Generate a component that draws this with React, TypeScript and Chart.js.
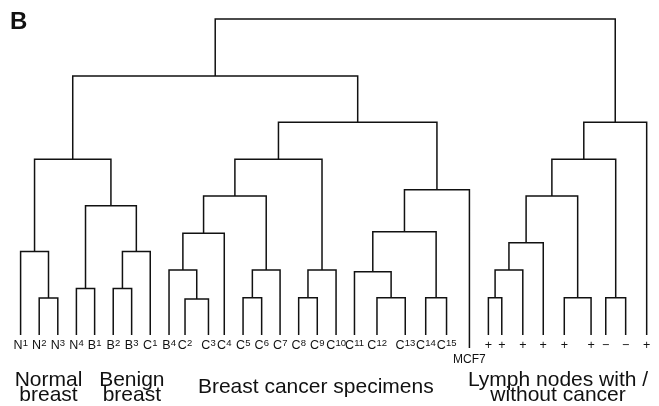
import React, { useEffect, useRef } from 'react';
import { Chart, registerables } from 'chart.js';

Chart.register(...registerables);

// ---- Data ----
const panelLabel = 'B';

const leafLabels = [
  'N1', 'N2', 'N3', 'N4', 'B1', 'B2', 'B3', 'C1', 'B4', 'C2', 'C3', 'C4',
  'C5', 'C6', 'C7', 'C8', 'C9', 'C10', 'C11', 'C12', 'C13', 'C14', 'C15',
  'MCF7', '+', '+', '+', '+', '+', '+', '\u2212', '\u2212', '+',
];

// leaf positions along the x axis (slot units)
const leafPositions = [
  1.0, 2.0, 3.0, 4.0, 4.98, 5.98, 6.97, 7.97, 8.98, 9.84, 11.1, 11.95,
  12.96, 13.96, 14.95, 15.95, 16.95, 17.96, 18.95, 20.16, 21.68, 22.78, 23.9,
  25.13, 26.15, 26.87, 28.0, 29.1, 30.23, 31.67, 32.46, 33.53, 34.66,
];

// linkage: node 33 + k merges mergeLeft[k] and mergeRight[k] at mergeHeight[k]
const mergeLeft = [
  9, 1, 12, 15, 19, 21, 24, 28, 30, 3, 5, 18, 8, 35, 36, 39,
  0, 43, 48, 45, 44, 42, 52, 51, 53, 49, 55, 56, 59, 60, 58, 63,
];
const mergeRight = [
  10, 2, 13, 16, 20, 22, 25, 29, 31, 4, 6, 37, 33, 14, 17, 26,
  34, 7, 27, 11, 38, 50, 46, 40, 23, 54, 47, 41, 57, 32, 61, 62,
];
const mergeHeight = [
  11.4, 11.7, 11.8, 11.8, 11.8, 11.8, 11.8, 11.8, 11.8, 14.7, 14.7, 20.0, 20.6, 20.6, 20.6, 20.6,
  26.4, 26.4, 29.2, 32.2, 32.7, 40.9, 44.0, 44.0, 46.0, 55.6, 55.6, 55.6, 67.3, 67.3, 82.0, 100,
];

const groupLines = [
  ['Normal', 'breast'],
  ['Benign', 'breast'],
  ['Breast cancer specimens'],
  ['Lymph nodes with /', 'without cancer'],
];
const groupFirstLeaf = [0, 4, 9, 23];
const groupLastLeaf = [3, 8, 22, 32];

const staggeredLeaves = ['MCF7'];

// ---- Styling ----
const FONT = '"Liberation Sans", Arial, Helvetica, sans-serif';
const INK = '#111';
const STAGGER_DROP = 4.1; // extra length (y units) of staggered leaf lines

function buildTree() {
  const n = leafLabels.length;
  const xs: number[] = leafPositions.slice();
  const hs: number[] = leafLabels.map((l) => (staggeredLeaves.includes(l) ? -STAGGER_DROP : 0));
  const links: { x: number; y: number }[][] = [];
  for (let k = 0; k < mergeLeft.length; k++) {
    const l = mergeLeft[k];
    const r = mergeRight[k];
    const h = mergeHeight[k];
    links.push([
      { x: xs[l], y: hs[l] },
      { x: xs[l], y: h },
      { x: xs[r], y: h },
      { x: xs[r], y: hs[r] },
    ]);
    xs[n + k] = (xs[l] + xs[r]) / 2;
    hs[n + k] = h;
  }
  return links;
}

const labelPlugin = {
  id: 'dendroLabels',
  afterDraw(chart: any) {
    const ctx: CanvasRenderingContext2D = chart.ctx;
    const xs = chart.scales.x;
    const bottom = chart.chartArea.bottom;
    ctx.save();
    ctx.fillStyle = INK;
    ctx.textBaseline = 'alphabetic';

    // panel letter
    ctx.textAlign = 'left';
    ctx.font = `bold 24px ${FONT}`;
    ctx.fillText(panelLabel, 10, 29);

    // leaf labels
    leafLabels.forEach((lab, i) => {
      const px = xs.getPixelForValue(leafPositions[i]);
      if (staggeredLeaves.includes(lab)) {
        ctx.font = `12px ${FONT}`;
        ctx.textAlign = 'center';
        ctx.fillText(lab, px, bottom + 27.7);
        return;
      }
      const m = lab.match(/^([A-Z])(\d+)$/);
      if (m) {
        ctx.font = `12.5px ${FONT}`;
        const wb = ctx.measureText(m[1]).width;
        ctx.font = `9.5px ${FONT}`;
        const ws = ctx.measureText(m[2]).width;
        const start = px - (wb + ws) / 2;
        ctx.textAlign = 'left';
        ctx.font = `12.5px ${FONT}`;
        ctx.fillText(m[1], start, bottom + 14);
        ctx.font = `9.5px ${FONT}`;
        ctx.fillText(m[2], start + wb + 0.2, bottom + 11.2);
      } else {
        ctx.font = `12.5px ${FONT}`;
        ctx.textAlign = 'center';
        ctx.fillText(lab, px, bottom + 14);
      }
    });

    // group labels
    ctx.font = `21px ${FONT}`;
    ctx.textAlign = 'center';
    groupLines.forEach((lines, g) => {
      const cx =
        (xs.getPixelForValue(leafPositions[groupFirstLeaf[g]]) +
          xs.getPixelForValue(leafPositions[groupLastLeaf[g]])) / 2;
      lines.forEach((t, j) => {
        const y = bottom + 58.3 + (j - (lines.length - 1) / 2) * 14.5;
        ctx.fillText(t, cx, y);
      });
    });
    ctx.restore();
  },
};

export default function App() {
  const ref = useRef<HTMLCanvasElement | null>(null);
  useEffect(() => {
    if (!ref.current) return;
    const links = buildTree();
    const chart = new Chart(ref.current, {
      type: 'scatter',
      data: {
        datasets: links.map((pts) => ({
          data: pts,
          showLine: true,
          borderColor: INK,
          borderWidth: 1.5,
          pointRadius: 0,
          pointHoverRadius: 0,
          tension: 0,
          fill: false,
          clip: false as any,
        })),
      },
      options: {
        responsive: false,
        animation: false,
        events: [],
        layout: { padding: { left: 2, right: 6, top: 19, bottom: 71 } },
        scales: {
          x: { type: 'linear', min: 0, max: 35, display: false },
          y: { type: 'linear', min: 0, max: 100, display: false },
        },
        plugins: {
          legend: { display: false },
          tooltip: { enabled: false },
        },
      },
      plugins: [labelPlugin],
    });
    return () => chart.destroy();
  }, []);

  return (
    <div style={{ position: 'absolute', left: 0, top: 0, width: 659, height: 406, background: '#fff' }}>
      <canvas ref={ref} width={659} height={406} style={{ display: 'block' }} />
    </div>
  );
}
